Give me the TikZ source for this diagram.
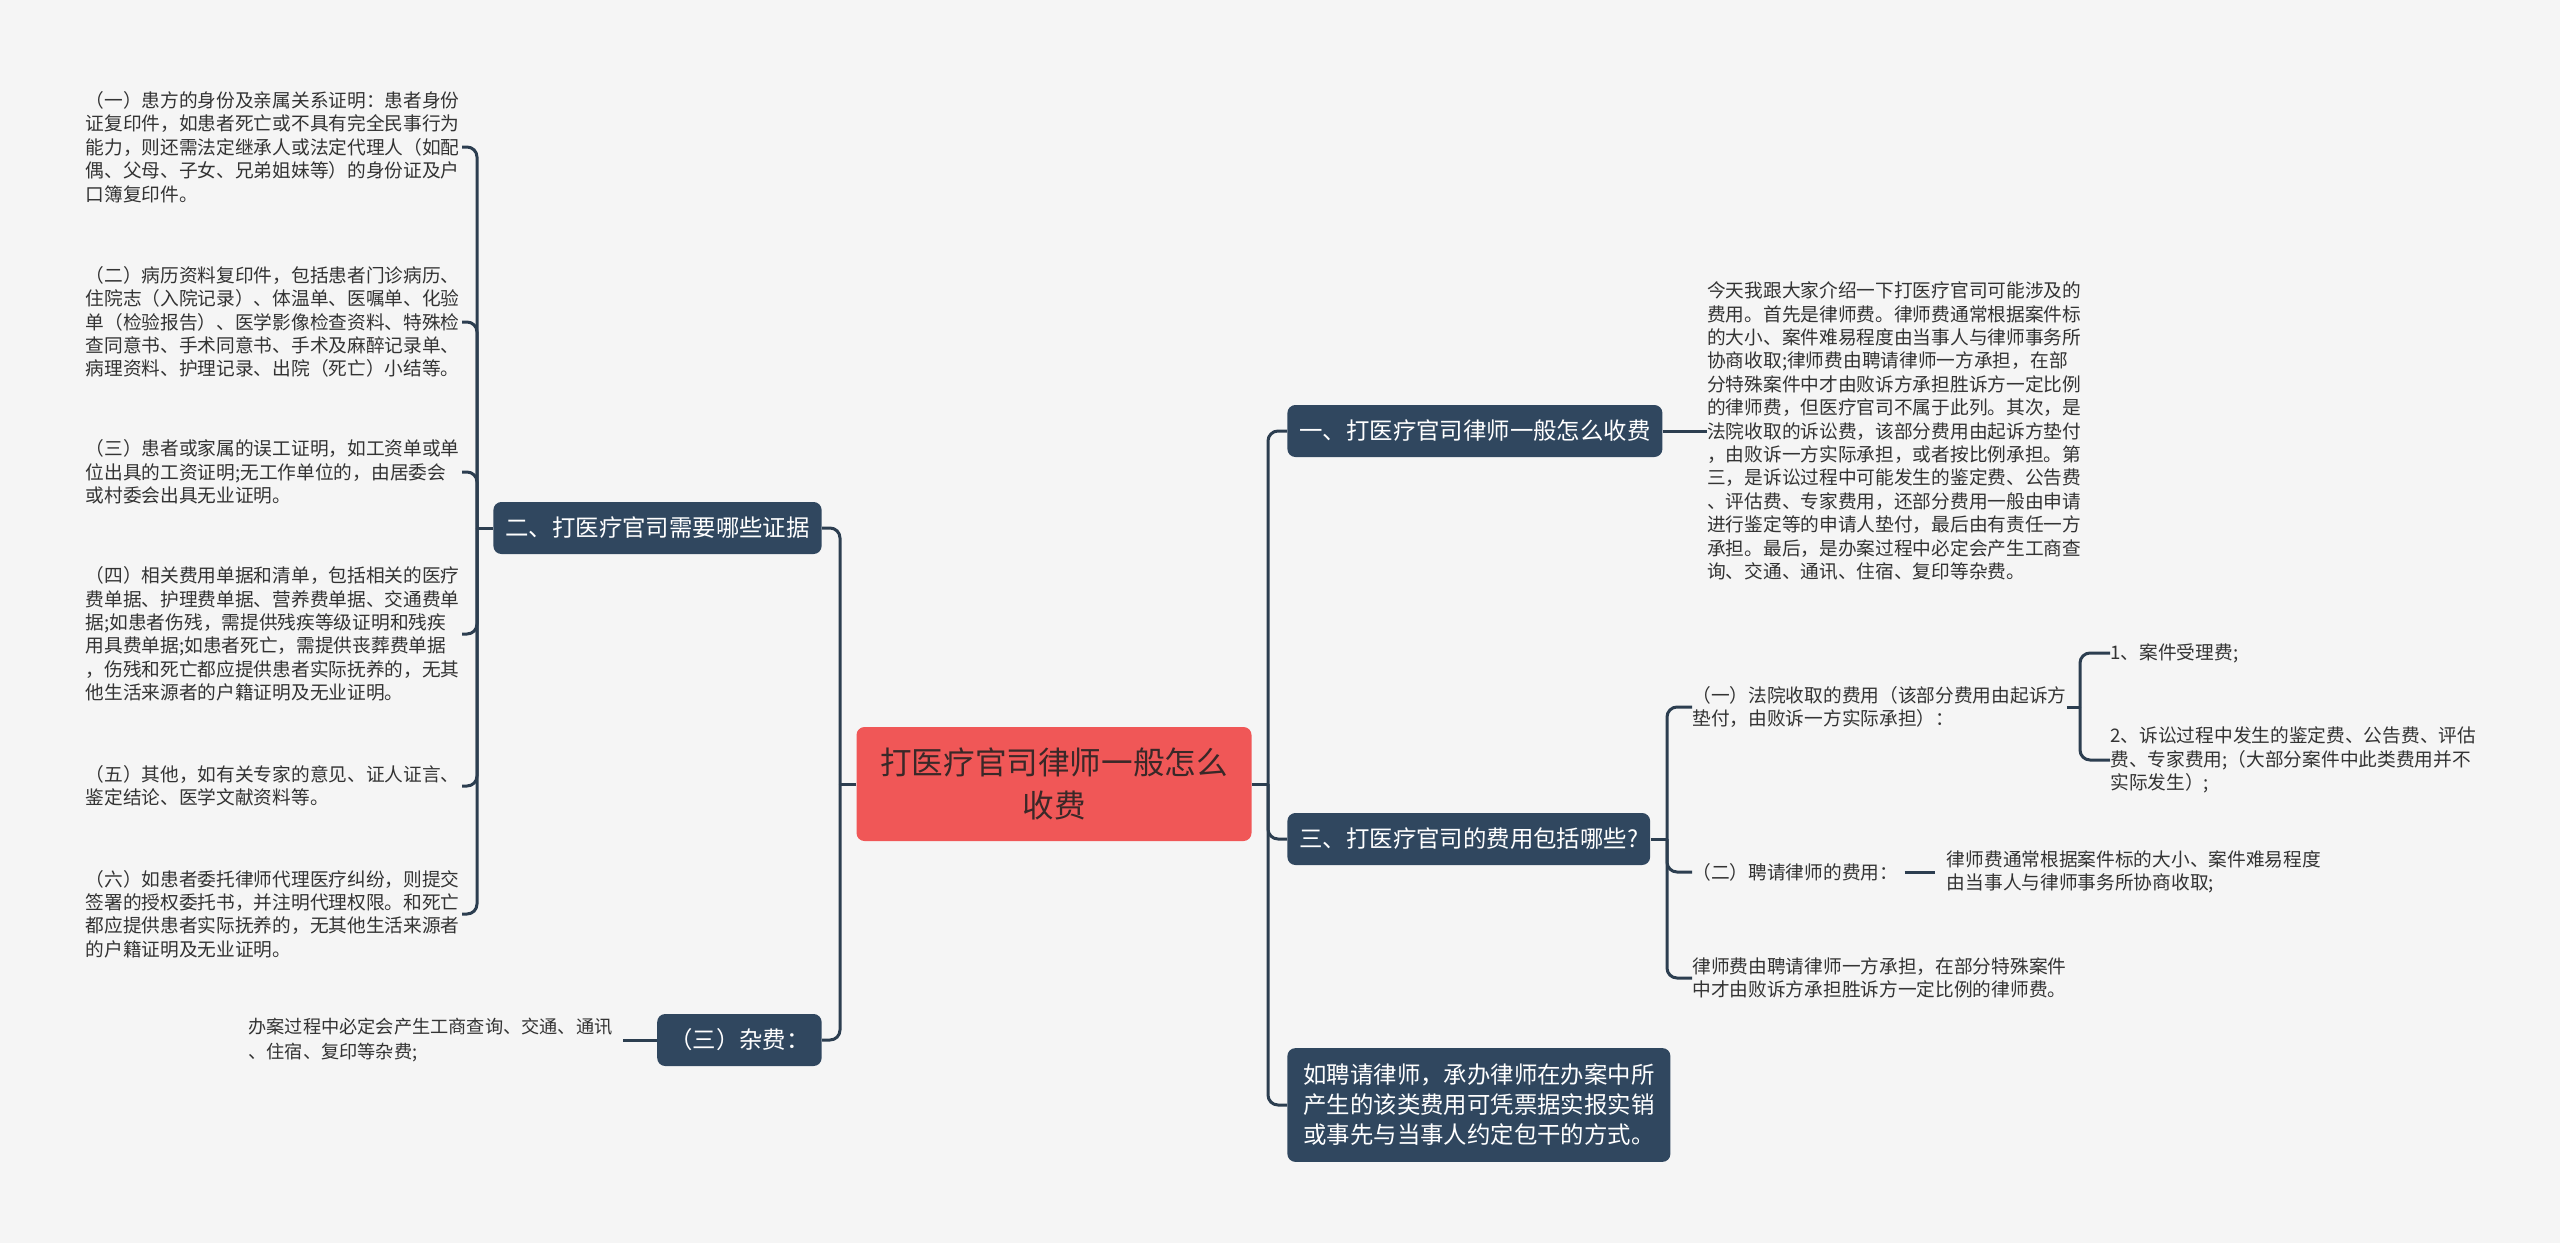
\documentclass[tikz,border=0pt]{standalone}
\usepackage{fontspec}
\setmainfont{Noto Sans CJK SC}
\usetikzlibrary{positioning,calc}

\definecolor{bgcol}{HTML}{F5F5F5}
\definecolor{topicfill}{HTML}{30475F}
\definecolor{linecol}{HTML}{2C3E50}
\definecolor{rootfill}{HTML}{F05757}
\definecolor{roottext}{HTML}{3A2828}
\definecolor{leaftext}{HTML}{333333}

\begin{document}
\begin{tikzpicture}[
  x=0.5pt,y=-0.5pt,
  rootbox/.style={fill=rootfill,rounded corners=4pt,text=roottext,align=center,
                  font=\fontsize{15.8}{21.7}\selectfont,minimum width=197.5pt,minimum height=57pt},
  topic/.style={fill=topicfill,rounded corners=4pt,text=white,align=left,
                font=\fontsize{11.7}{15}\selectfont,inner xsep=6pt,minimum height=26pt},
  leaf/.style={text=leaftext,align=left,inner sep=0pt,font=\fontsize{9.35}{11.7}\selectfont},
  leftleaf/.style={leaf,text width=188pt,anchor=east},
  link/.style={draw=linecol,line width=1.5pt,rounded corners=5pt},
]

%% ---- Background -------------------------------------------------------------
\fill[bgcol] (0,0) rectangle (2560,1243);

%% ---- Root -------------------------------------------------------------------
\node[rootbox] (root) at (1054,784) {打医疗官司律师一般怎么\\收费};

%% ---- Right topics -----------------------------------------------------------
\node[topic, anchor=west] (t1) at (1287,431) {一、打医疗官司律师一般怎么收费};
\node[topic, anchor=west] (t3) at (1287,839) {三、打医疗官司的费用包括哪些?};
\node[topic, anchor=west, inner xsep=8pt, inner ysep=8pt] (t4) at (1287,1105)
  {如聘请律师，承办律师在办案中所\\产生的该类费用可凭票据实报实销\\或事先与当事人约定包干的方式。};

%% ---- Left topics ------------------------------------------------------------
\node[topic, anchor=east] (q2) at (822,528) {二、打医疗官司需要哪些证据};
\node[topic, anchor=east] (q3) at (822,1040) {（三）杂费：};

%% ---- Topic one: text --------------------------------------------------------
\node[leaf, right=22pt of t1] (p1) {今天我跟大家介绍一下打医疗官司可能涉及的\\
费用。首先是律师费。律师费通常根据案件标\\
的大小、案件难易程度由当事人与律师事务所\\
协商收取;律师费由聘请律师一方承担，在部\\
分特殊案件中才由败诉方承担胜诉方一定比例\\
的律师费，但医疗官司不属于此列。其次，是\\
法院收取的诉讼费，该部分费用由起诉方垫付\\
，由败诉一方实际承担，或者按比例承担。第\\
三，是诉讼过程中可能发生的鉴定费、公告费\\
、评估费、专家费用，还部分费用一般由申请\\
进行鉴定等的申请人垫付，最后由有责任一方\\
承担。最后，是办案过程中必定会产生工商查\\
询、交通、通讯、住宿、复印等杂费。};

%% ---- Topic three: items -----------------------------------------------------
\node[leaf, anchor=west] (f1) at (1692,707) {（一）法院收取的费用（该部分费用由起诉方\\垫付，由败诉一方实际承担）：};
\node[leaf, anchor=west] (f2) at (1692,872) {（二）聘请律师的费用：};
\node[leaf, anchor=west] (f3) at (1692,978) {律师费由聘请律师一方承担，在部分特殊案件\\中才由败诉方承担胜诉方一定比例的律师费。};
\node[leaf, anchor=west] (g1) at (2110,653) {1、案件受理费;};
\node[leaf, anchor=west] (g2) at (2110,760) {2、诉讼过程中发生的鉴定费、公告费、评估\\费、专家费用;（大部分案件中此类费用并不\\实际发生）;};
\node[leaf, right=24pt of f2] (f2c) {律师费通常根据案件标的大小、案件难易程度\\由当事人与律师事务所协商收取;};

%% ---- Topic two: evidence list -----------------------------------------------
\node[leftleaf] (c1) at (462,147) {（一）患方的身份及亲属关系证明：患者身份\\
证复印件，如患者死亡或不具有完全民事行为\\
能力，则还需法定继承人或法定代理人（如配\\
偶、父母、子女、兄弟姐妹等）的身份证及户\\
口簿复印件。};
\node[leftleaf] (c2) at (462,322) {（二）病历资料复印件，包括患者门诊病历、\\
住院志（入院记录）、体温单、医嘱单、化验\\
单（检验报告）、医学影像检查资料、特殊检\\
查同意书、手术同意书、手术及麻醉记录单、\\
病理资料、护理记录、出院（死亡）小结等。};
\node[leftleaf] (c3) at (462,472) {（三）患者或家属的误工证明，如工资单或单\\
位出具的工资证明;无工作单位的，由居委会\\
或村委会出具无业证明。};
\node[leftleaf] (c4) at (462,634) {（四）相关费用单据和清单，包括相关的医疗\\
费单据、护理费单据、营养费单据、交通费单\\
据;如患者伤残，需提供残疾等级证明和残疾\\
用具费单据;如患者死亡，需提供丧葬费单据\\
，伤残和死亡都应提供患者实际抚养的，无其\\
他生活来源者的户籍证明及无业证明。};
\node[leftleaf] (c5) at (462,786) {（五）其他，如有关专家的意见、证人证言、\\
鉴定结论、医学文献资料等。};
\node[leftleaf] (c6) at (462,914) {（六）如患者委托律师代理医疗纠纷，则提交\\
签署的授权委托书，并注明代理权限。和死亡\\
都应提供患者实际抚养的，无其他生活来源者\\
的户籍证明及无业证明。};

%% ---- Misc fees --------------------------------------------------------------
\node[leaf, left=22pt of q3, font=\fontsize{9.1}{12.2}\selectfont] (z1)
  {办案过程中必定会产生工商查询、交通、通讯\\、住宿、复印等杂费;};

%% ---- Junctions --------------------------------------------------------------
\coordinate (jR) at (1268,784);
\coordinate (jL) at (840,784);
\coordinate (j2) at (477,528);
\coordinate (j3) at (1667,839);
\coordinate (j4) at (2080,707);

%% ---- Connectors: root
\draw[link] (root.east) -- (jR);
\draw[link] (root.west) -- (jL);
\foreach \t in {t1,t3,t4} \draw[link] (jR) |- (\t.west);
\foreach \t in {q2,q3} \draw[link] (jL) |- (\t.east);

%% ---- Connectors: right branches
\draw[link] (t1.east) -- (p1.west);
\draw[link] (t3.east) -- (j3);
\foreach \f in {f1,f2,f3} \draw[link] (j3) |- (\f.west);
\draw[link] (f1.east) -- (j4);
\foreach \g in {g1,g2} \draw[link] (j4) |- (\g.west);
\draw[link, shorten <=3pt, shorten >=6pt] (f2.east) -- (f2c.west);

%% ---- Connectors: left branches
\draw[link] (q2.west) -- (j2);
\foreach \c in {c1,c2,c3,c4,c5,c6} \draw[link] (j2) |- (\c.east);
\draw[link, shorten >=5pt] (q3.west) -- (z1.east);

\end{tikzpicture}
\end{document}
